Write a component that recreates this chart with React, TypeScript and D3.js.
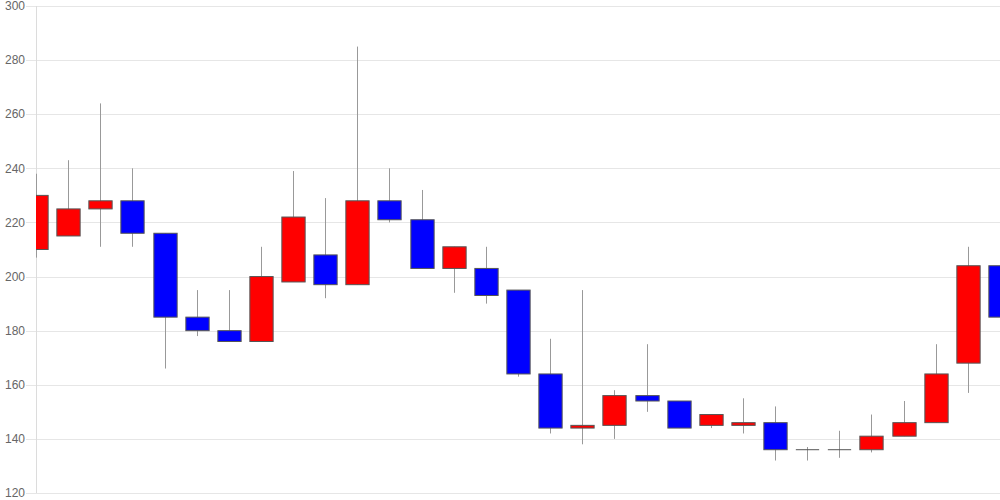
import React from "react";
import * as d3 from "d3";

const opens = [210, 215, 225, 228, 216, 185, 180, 176, 198, 208, 197, 228, 221, 203, 203, 195, 164, 144, 145, 156, 154, 145, 145, 146, 136, 136, 136, 141, 146, 168, 204];
const highs = [238, 243, 264, 240, 216, 195, 195, 211, 239, 229, 285, 240, 232, 211, 211, 195, 177, 195, 158, 175, 154, 149, 155, 152, 137, 143, 149, 154, 175, 211, 204];
const lows = [207, 215, 211, 211, 166, 178, 176, 176, 198, 192, 197, 220, 203, 194, 190, 163, 142, 138, 140, 150, 144, 144, 142, 132, 132, 133, 135, 141, 146, 157, 175];
const closes = [230, 225, 228, 216, 185, 180, 176, 200, 222, 197, 228, 221, 203, 211, 193, 164, 144, 145, 156, 154, 144, 149, 146, 136, 136, 136, 141, 146, 164, 204, 185];
const yTicks = [120, 140, 160, 180, 200, 220, 240, 260, 280, 300];

const W = 1000;
const H = 500;
const left = 36;
const right = 1000;
const top = 6;
const bottom = 493;

export default function App() {
  const idx = opens.map((_, i) => String(i));
  const x = d3.scalePoint<string>().domain(idx).range([left, right]);
  const y = d3.scaleLinear().domain([120, 300]).range([bottom, top]);
  const bw = x.step() * 0.725;

  return (
    <svg width={W} height={H} style={{ position: "absolute", left: 0, top: 0, background: "#fff" }}>
      <defs>
        <clipPath id="plot">
          <rect x={left} y={0} width={right - left} height={H} />
        </clipPath>
      </defs>
      {yTicks.map((t) => (
        <g key={t}>
          <line x1={26} x2={right} y1={Math.round(y(t)) + 0.5} y2={Math.round(y(t)) + 0.5} stroke="#e6e6e6" strokeWidth={1} />
          <text x={25} y={y(t)} dy="0.35em" textAnchor="end" fontFamily="Liberation Sans, Arial, sans-serif" fontSize={12} fill="#666">
            {t}
          </text>
        </g>
      ))}
      <line x1={left + 0.5} x2={left + 0.5} y1={top} y2={bottom} stroke="#dcdcdc" strokeWidth={1} />
      <g clipPath="url(#plot)">
        {idx.map((k, i) => {
          const cx = Math.round(x(k)!) + 0.5;
          const o = opens[i];
          const c = closes[i];
          const up = c > o;
          const down = c < o;
          const yt = y(Math.max(o, c));
          const yb = y(Math.min(o, c));
          return (
            <g key={k}>
              <line x1={cx} x2={cx} y1={y(highs[i])} y2={y(lows[i])} stroke="#999" strokeWidth={1} />
              {up || down ? (
                <rect
                  x={cx - bw / 2}
                  y={yt}
                  width={bw}
                  height={Math.max(1, yb - yt)}
                  fill={up ? "#ff0000" : "#0000ff"}
                  stroke="#555"
                  strokeWidth={1}
                />
              ) : (
                <line x1={cx - bw / 2} x2={cx + bw / 2} y1={yt} y2={yt} stroke="#555" strokeWidth={1} />
              )}
            </g>
          );
        })}
      </g>
    </svg>
  );
}
